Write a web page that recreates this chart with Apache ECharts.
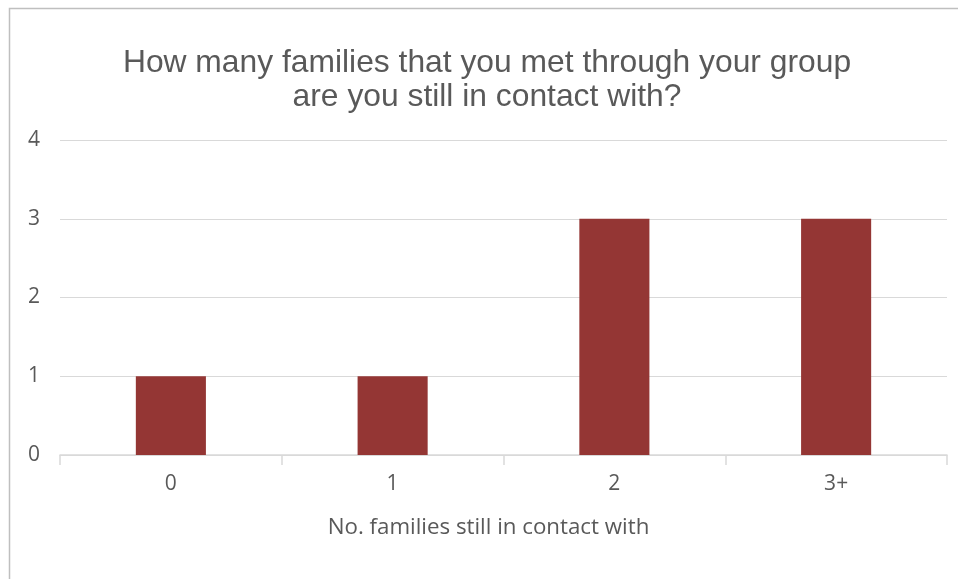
<!DOCTYPE html>
<html><head><meta charset="utf-8">
<script src="https://cdn.jsdelivr.net/npm/echarts@6/dist/echarts.min.js"></script>
<style>html,body{margin:0;padding:0;background:#fff}#c{width:958px;height:579px}</style>
</head><body><div id="c"></div>
<script>
var categories = ['0', '1', '2', '3+'];
var counts = [1, 1, 3, 3];
var yTicks = [0, 1, 2, 3, 4];
var chart = echarts.init(document.getElementById('c'), null, {renderer: 'canvas'});
chart.setOption({
  animation: false,
  graphic: [{type: 'rect', shape: {x: 9.5, y: 8.5, width: 1000, height: 1000}, style: {fill: 'none', stroke: '#bfbfbf', lineWidth: 1.5}, silent: true}],
  title: {
    text: 'How many families that you met through your group\nare you still in contact with?',
    left: 482, textAlign: 'center', top: 41,
    textStyle: {fontFamily: 'Liberation Sans', fontSize: 31.8, fontWeight: 'normal', color: '#595959', lineHeight: 34}
  },
  grid: {left: 60, right: 11, top: 140, bottom: 124},
  xAxis: {
    type: 'category', data: categories,
    name: 'No. families still in contact with', nameLocation: 'middle', nameGap: 62,
    nameTextStyle: {fontFamily: 'Open Sans', fontSize: 22.3, color: '#595959', padding: [0, 30, 0, 0]},
    axisLine: {lineStyle: {color: '#d9d9d9', width: 1.5}},
    axisTick: {show: true, length: 10, lineStyle: {color: '#d9d9d9', width: 1.5}},
    axisLabel: {fontFamily: 'Open Sans', fontSize: 21, color: '#595959', margin: 19}
  },
  yAxis: {
    type: 'value', min: yTicks[0], max: yTicks[yTicks.length - 1], interval: 1,
    axisLine: {show: false}, axisTick: {show: false},
    splitLine: {lineStyle: {color: '#d9d9d9', width: 1.2}},
    axisLabel: {fontFamily: 'Open Sans', fontSize: 21, color: '#595959', margin: 20, align: 'right'}
  },
  series: [{type: 'bar', data: counts, barWidth: '31.6%', itemStyle: {color: '#943634'}}]
});
</script></body></html>
